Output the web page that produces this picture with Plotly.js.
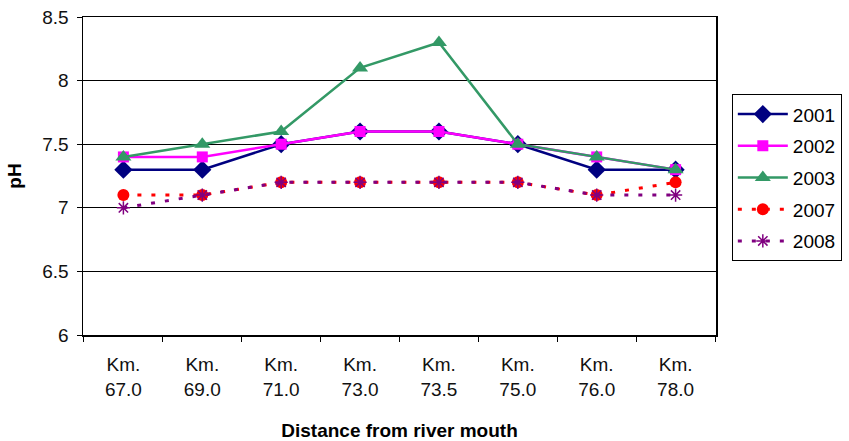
<!DOCTYPE html>
<html>
<head>
<meta charset="utf-8">
<script src="https://cdn.plot.ly/plotly-3.0.1.min.js"></script>
<style>
  html, body { margin: 0; padding: 0; background: #fff; }
  #chart { width: 849px; height: 441px; }
</style>
</head>
<body>
<div id="chart"></div>
<script>
// Sampling stations (distance upstream from the river mouth)
const stations = ["Km.<br>67.0", "Km.<br>69.0", "Km.<br>71.0", "Km.<br>73.0",
                  "Km.<br>73.5", "Km.<br>75.0", "Km.<br>76.0", "Km.<br>78.0"];

// pH measured per survey year
const ph2001 = [7.3, 7.3, 7.5, 7.6, 7.6, 7.5, 7.3, 7.3];
const ph2002 = [7.4, 7.4, 7.5, 7.6, 7.6, 7.5, 7.4, 7.3];
const ph2003 = [7.4, 7.5, 7.6, 8.1, 8.3, 7.5, 7.4, 7.3];
const ph2007 = [7.1, 7.1, 7.2, 7.2, 7.2, 7.2, 7.1, 7.2];
const ph2008 = [7.0, 7.1, 7.2, 7.2, 7.2, 7.2, 7.1, 7.1];

const yTicks = [6, 6.5, 7, 7.5, 8, 8.5];

function series(name, y, color, dash, symbol, size, lw) {
  return {
    type: "scatter", mode: "lines+markers", name: name,
    x: stations, y: y, legendgroup: name,
    line: { color: color, width: lw, dash: dash },
    marker: { symbol: symbol, size: size, color: color,
              line: { color: color, width: symbol === "asterisk-open" ? 1.5 : 0 } }
  };
}

const traces = [
  series("2001", ph2001, "#000080", "solid", "diamond", 14, 2.5),
  series("2002", ph2002, "#FF00FF", "solid", "square", 11, 2.5),
  series("2003", ph2003, "#339966", "solid", "triangle-up", 14, 2.5),
  series("2007", ph2007, "#FF0000", "4px,10px", "circle", 12, 3),
  series("2008", ph2008, "#800080", "4px,10px", "asterisk-open", 11, 3)
];

const layout = {
  width: 849, height: 441,
  margin: { l: 83, r: 133, t: 17, b: 106, autoexpand: false },
  paper_bgcolor: "#fff", plot_bgcolor: "#fff",
  font: { family: "'Liberation Sans', Arial, sans-serif", size: 19, color: "#111" },
  showlegend: true,
  legend: {
    x: 1.025, xanchor: "left", y: 0.757, yanchor: "top",
    bordercolor: "#000", borderwidth: 1, bgcolor: "#fff",
    font: { size: 19, color: "#000" }, tracegroupgap: 4,
    itemwidth: 50
  },
  xaxis: {
    type: "category", tickson: "boundaries",
    ticks: "outside", ticklen: 5, tickcolor: "#000",
    showline: true, linecolor: "#000", linewidth: 1.5, mirror: true,
    showgrid: false, zeroline: false, ticklabelstandoff: 12,
    tickfont: { size: 19, color: "#111" },
    title: { text: "<b>Distance from river mouth</b>", font: { size: 19, color: "#000" }, standoff: 26 }
  },
  yaxis: {
    range: [6, 8.5], tickvals: yTicks, ticktext: yTicks.map(String),
    ticks: "outside", ticklen: 5, tickcolor: "#000",
    showline: true, linecolor: "#000", linewidth: 1.5, mirror: true,
    showgrid: true, gridcolor: "#000", gridwidth: 1.3, zeroline: false,
    ticklabelstandoff: 4,
    tickfont: { size: 19, color: "#111" },
    title: { text: "<b>pH</b>", font: { size: 19, color: "#000" }, standoff: 15 }
  }
};

Plotly.newPlot("chart", traces, layout, { displayModeBar: false, staticPlot: true });
</script>
</body>
</html>
